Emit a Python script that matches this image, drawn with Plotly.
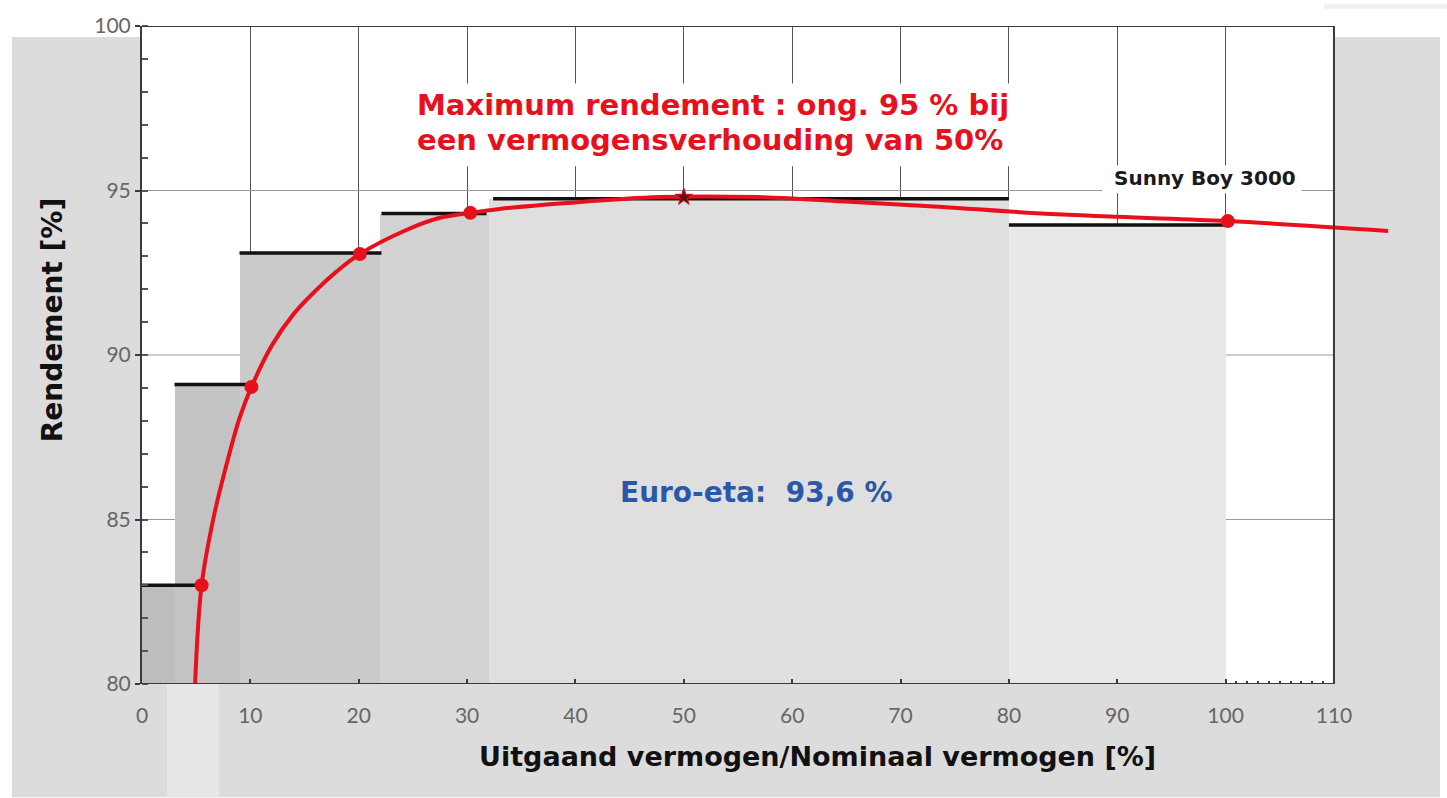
import plotly.graph_objects as go

# ---- data -------------------------------------------------------------
# Euro-eta weighting blocks: left/right edges and efficiency level (%)
block_left = [0, 3, 9, 22, 32, 80]
block_right = [3, 9, 22, 32, 80, 100]
block_eff = [83.0, 89.1, 93.1, 94.3, 94.75, 93.95]
block_colors = ["#bdbdbd", "#c3c3c3", "#cacaca", "#d3d3d3", "#dfdfdf", "#e8e8e8"]

# black level markers drawn on top of each block
level_start = [0, 3, 9, 22.1, 32.4, 80]
level_end = [5.4, 9.6, 22.1, 31.8, 80, 100.2]

# measured efficiency curve (output power / nominal power in %, efficiency in %)
curve_x = [4.9, 5.5, 6.6, 7.8, 9.0, 10.1, 12.0, 14.0, 16.0, 18.0, 20.1,
           24.4, 27.5, 30.3, 33.0, 39.2, 47.8, 56.7, 65.3, 73.9, 81.0, 90.0,
           100.2, 115.0]
curve_y = [80.0, 83.0, 85.05, 86.67, 88.08, 89.03, 90.3, 91.25, 91.95, 92.55,
           93.07, 93.8, 94.17, 94.32, 94.44, 94.62, 94.8, 94.8, 94.66, 94.5,
           94.34, 94.2, 94.07, 93.77]

# highlighted operating points
point_x = [5.5, 10.1, 20.1, 30.3, 100.2]
point_y = [83.0, 89.03, 93.07, 94.32, 94.07]
peak_x = [50]
peak_y = [94.8]

x_ticks = [0, 10, 20, 30, 40, 50, 60, 70, 80, 90, 100, 110]
y_ticks = [80, 85, 90, 95, 100]
y_grid = [85, 90, 95]

FONT = "Lato"
BOLD = "DejaVu Sans"
RED = "#e8101c"

# ---- page geometry (pixels) ---------------------------------------------
W, H = 1447, 798
ML, MR, MT, MB = 142, 48, 22, 114
PW, PH = W - ML - MR, H - MT - MB


def paper_x(px):
    return (px - ML) / PW


def paper_y(py):
    return (H - MB - py) / PH


fig = go.Figure()

# weighting blocks
fig.add_trace(go.Bar(
    x=[(a + b) / 2 for a, b in zip(block_left, block_right)],
    y=block_eff,
    width=[b - a for a, b in zip(block_left, block_right)],
    marker=dict(color=block_colors, line=dict(width=0)),
    hoverinfo="skip", showlegend=False,
))

# black level segments
lx, ly = [], []
for s, e, v in zip(level_start, level_end, block_eff):
    lx += [s, e, None]
    ly += [v, v, None]
fig.add_trace(go.Scatter(x=lx, y=ly, mode="lines",
                         line=dict(color="#111111", width=3.5),
                         hoverinfo="skip", showlegend=False))

# efficiency curve
fig.add_trace(go.Scatter(x=curve_x, y=curve_y, mode="lines",
                         line=dict(color=RED, width=4, shape="spline", smoothing=1.0),
                         showlegend=False))

fig.add_trace(go.Scatter(x=point_x, y=point_y, mode="markers",
                         marker=dict(color=RED, size=14, line=dict(width=0)),
                         cliponaxis=False, showlegend=False))
fig.add_trace(go.Scatter(x=peak_x, y=peak_y, mode="markers",
                         marker=dict(color="#5a1414", size=13, symbol="star",
                                     line=dict(color=RED, width=1)),
                         showlegend=False))

shapes = []
# grey panel behind the chart
shapes.append(dict(type="rect", xref="paper", yref="paper",
                   x0=paper_x(12), x1=paper_x(1440), y0=paper_y(798), y1=paper_y(33),
                   fillcolor="#dcdcdc", line=dict(width=0), layer="below"))
# light strip under the axis
shapes.append(dict(type="rect", xref="x", yref="paper",
                   x0=2.3, x1=7.1, y0=paper_y(798), y1=0,
                   fillcolor="#e7e7e7", line=dict(width=0), layer="below"))
# faint band top right
shapes.append(dict(type="rect", xref="paper", yref="paper",
                   x0=paper_x(1324), x1=paper_x(1447), y0=paper_y(5), y1=paper_y(0),
                   fillcolor="#f0f0f0", line=dict(width=0), layer="below"))
# white plotting field
shapes.append(dict(type="rect", xref="x", yref="y", x0=0, x1=110, y0=80, y1=100,
                   fillcolor="white", line=dict(width=0), layer="below"))
# horizontal grid lines
for g in y_grid:
    shapes.append(dict(type="line", xref="x", yref="y", x0=0, x1=110, y0=g, y1=g,
                       line=dict(color="#9a9a9a", width=1), layer="between"))
# white boxes behind the text labels
shapes.append(dict(type="rect", xref="x", yref="y", x0=24.7, x1=82.9, y0=95.74, y1=98.25,
                   fillcolor="white", line=dict(width=0), layer="between"))
shapes.append(dict(type="rect", xref="x", yref="y", x0=88.6, x1=107.0, y0=94.92, y1=95.77,
                   fillcolor="white", line=dict(width=0), layer="between"))
# frame
for x0, y0, x1, y1 in [(0, 80, 110, 80), (110, 80, 110, 100), (0, 100, 110, 100)]:
    shapes.append(dict(type="line", xref="x", yref="y", x0=x0, y0=y0, x1=x1, y1=y1,
                       line=dict(color="#3a3a3a", width=2), layer="above"))

annotations = [
    dict(x=25.2, y=97.6, xref="x", yref="y", xanchor="left", yanchor="middle",
         text="<b>Maximum rendement : ong. 95 % bij</b>", showarrow=False,
         font=dict(family=BOLD, size=29, color=RED)),
    dict(x=25.2, y=96.55, xref="x", yref="y", xanchor="left", yanchor="middle",
         text="<b>een vermogensverhouding van 50%</b>", showarrow=False,
         font=dict(family=BOLD, size=29, color=RED)),
    dict(x=98.1, y=95.38, xref="x", yref="y", xanchor="center", yanchor="middle",
         text="<b>Sunny Boy 3000</b>", showarrow=False,
         font=dict(family=BOLD, size=20, color="#1a1a1a")),
    dict(x=56.75, y=85.83, xref="x", yref="y", xanchor="center", yanchor="middle",
         text="<b>Euro-eta:&nbsp;&nbsp;93,6 %</b>", showarrow=False,
         font=dict(family=BOLD, size=28, color="#2b58a6")),
    dict(x=paper_x(817), y=paper_y(757), xref="paper", yref="paper",
         xanchor="center", yanchor="middle",
         text="<b>Uitgaand vermogen/Nominaal vermogen [%]</b>", showarrow=False,
         font=dict(family=BOLD, size=27, color="#111111")),
    dict(x=paper_x(52), y=paper_y(318), xref="paper", yref="paper",
         xanchor="center", yanchor="middle", textangle=-90,
         text="<b>Rendement [%]</b>", showarrow=False,
         font=dict(family=BOLD, size=28, color="#111111")),
]

fig.update_layout(
    width=W, height=H,
    margin=dict(l=ML, r=MR, t=MT, b=MB, pad=0),
    paper_bgcolor="white",
    plot_bgcolor="rgba(0,0,0,0)",
    shapes=shapes,
    annotations=annotations,
    showlegend=False,
    bargap=0,
    xaxis=dict(
        range=[0, 116], tickmode="array", tickvals=x_ticks,
        ticktext=[str(v) for v in x_ticks],
        showgrid=True, gridcolor="#555555", gridwidth=1,
        zeroline=False, showline=False,
        ticks="inside", ticklen=5, tickwidth=1.5, tickcolor="#3a3a3a",
        ticklabelstandoff=17,
        minor=dict(tickmode="array", tickvals=list(range(101, 110)),
                   ticks="inside", ticklen=3, tickcolor="#3a3a3a", showgrid=False),
        tickfont=dict(family=FONT, size=21, color="#666666"),
        fixedrange=True,
    ),
    yaxis=dict(
        range=[80, 100], tickmode="array", tickvals=y_ticks,
        showgrid=False, zeroline=False,
        showline=True, linecolor="#3a3a3a", linewidth=2,
        ticks="outside", ticklen=5, tickwidth=1.5, tickcolor="#3a3a3a",
        minor=dict(dtick=1, ticks="inside", ticklen=6, tickcolor="#555555", showgrid=False),
        tickfont=dict(family=FONT, size=21, color="#666666"),
        fixedrange=True,
    ),
)

fig.write_html("out.html")
